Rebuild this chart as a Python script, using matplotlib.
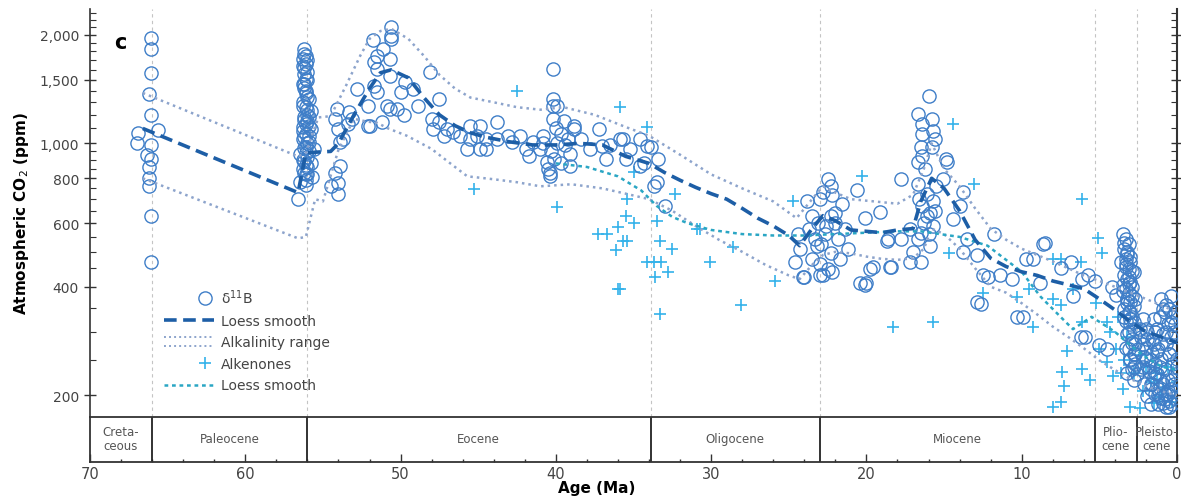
import numpy as np
import matplotlib
matplotlib.use("Agg")
import matplotlib.pyplot as plt
from matplotlib.lines import Line2D
from matplotlib.legend_handler import HandlerLine2D
from matplotlib.ticker import FixedLocator, FuncFormatter, MultipleLocator

# ---- boron isotope (d11B) CO2 estimates, age in Ma, CO2 in ppm ----
b_age_kpg = [66.1, 66.1, 66.1, 66.2, 66.1, 66.9, 65.6, 67.0, 66.1, 66.3, 66.1, 66.2, 66.2, 66.2, 66.1, 66.1]
b_co2_kpg = [1960, 1830, 1570, 1370, 1195, 1070, 1090, 1000, 990, 930, 905, 860, 800, 760, 630, 470]

b_age_petm = [56.2, 56.2, 56.3, 56.1, 56.2, 56.1, 56.3, 56.1, 56.0, 56.3, 56.1, 55.8, 56.2, 56.0, 56.3, 55.8,
              56.1, 56.3, 55.9, 56.1, 55.6, 56.5, 56.0, 56.2, 55.8, 56.3, 56.1, 55.7, 56.5, 56.1, 56.6,
              56.0, 56.2, 56.0, 56.2, 56.0, 55.9, 56.2, 55.9, 56.1, 56.0,
              56.1, 56.3, 56.0, 56.2, 56.1, 55.9, 56.3, 56.0, 56.2, 56.1, 56.3, 55.9, 56.0, 56.2, 56.1,
              56.3, 56.0, 56.2, 56.1, 55.9]
b_co2_petm = [1830, 1770, 1716, 1660, 1560, 1510, 1465, 1395, 1345, 1300, 1260, 1230, 1180, 1150, 1110, 1096,
              1060, 1028, 1010, 980, 964, 935, 915, 895, 880, 849, 823, 805, 780, 766, 700,
              1700, 1620, 1500, 1420, 1200, 1120, 1040, 950, 870, 820,
              1750, 1640, 1580, 1460, 1380, 1330, 1270, 1240, 1160, 1130, 1080, 1050, 1000, 970, 940,
              900, 860, 830, 790, 1180]

b_age_eo = [54.5, 54.0, 54.0, 54.2, 53.9, 53.9, 54.0, 54.2, 54.1, 53.3, 52.8, 53.4, 53.1, 53.7, 52.1, 52.1,
            51.8, 51.5, 51.7, 51.5, 51.7, 51.5, 51.1, 50.7, 50.6, 50.6, 50.6, 50.7, 50.7, 50.2, 49.8, 50.0,
            49.7, 49.2, 48.9, 50.9, 51.2, 52.0, 48.1, 47.5, 48.0, 47.9, 47.5, 47.0, 47.2, 46.6, 46.2, 45.5,
            45.5, 45.1, 45.7, 44.9, 44.5, 44.5, 44.9, 43.8, 43.8, 43.1, 42.8, 42.3, 41.9, 41.7, 41.5, 41.0,
            40.8, 40.6, 40.4, 40.2, 40.2, 40.2]
b_co2_eo = [760, 725, 775, 830, 865, 1010, 1095, 1170, 1245, 1220, 1415, 1130, 1170, 1030, 1270, 1115,
            1940, 1750, 1680, 1610, 1440, 1390, 1830, 1716, 2110, 1950, 1990, 1540, 1245, 1245, 1200, 1390,
            1480, 1415, 1270, 1270, 1145, 1115, 1580, 1330, 1170, 1095, 1145, 1095, 1050, 1075, 1050, 1030,
            1115, 1050, 965, 965, 965, 1030, 1115, 1145, 1030, 1050, 1010, 1050, 965, 920, 1010, 965,
            1050, 890, 810, 1610, 1270, 1170]

b_age_lateeo = [39.7, 39.4, 39.1, 40.1, 38.8, 39.7, 40.5, 38.4, 37.8, 37.2, 36.5, 35.9, 35.2, 34.6, 35.5, 34.3,
                33.9, 40.2, 39.9, 38.8, 37.0, 36.8, 35.7, 34.1, 33.4, 33.7, 33.5, 33.0, 34.6, 39.1, 40.4,
                40.8, 40.0, 39.5, 40.3, 39.9, 39.2]
b_co2_lateeo = [1060, 990, 935, 905, 1096, 880, 849, 1028, 964, 1096, 990, 1028, 964, 1028, 905, 880,
                975, 1330, 1270, 1115, 985, 905, 1028, 985, 905, 760, 780, 670, 865, 865, 830,
                1000, 1100, 1150, 950, 1000, 1030]

b_age_olmi = [23.8, 24.3, 24.0, 22.8, 22.5, 22.3, 22.8, 23.0, 23.5, 23.1, 22.7, 22.3, 22.0, 23.3, 22.9, 22.3,
              21.8, 23.5, 23.0, 22.5, 21.7, 22.0, 22.2, 21.6, 21.4, 21.2, 22.2, 24.1, 23.0,
              24.6, 24.4, 23.7, 22.6, 23.2]
b_co2_olmi = [690, 510, 425, 430, 796, 760, 735, 700, 630, 600, 560, 630, 600, 542, 525, 495,
              542, 477, 462, 448, 477, 640, 720, 680, 578, 510, 440, 425, 430,
              470, 560, 580, 590, 520]

b_age_mio = [20.6, 20.1, 19.1, 18.6, 19.6, 18.4, 20.1, 17.8, 16.7, 16.0, 16.4, 15.8, 16.4, 15.7, 16.5, 15.8,
             16.4, 15.6, 16.7, 14.9, 16.7, 16.1, 16.4, 16.1, 16.5, 17.0, 16.5, 16.7, 17.2, 15.9, 15.7, 15.7,
             15.5, 15.1, 14.8, 13.8, 14.0, 14.4, 13.5, 13.8, 12.9, 11.8, 12.2, 12.6, 11.4, 10.6, 9.9, 9.3,
             8.5, 17.8, 18.7, 20.0, 20.4, 19.8, 18.5, 17.2, 12.9, 10.3, 12.5, 9.7,
             16.2, 15.9, 16.0, 16.3, 15.6, 16.6]
b_co2_mio = [740, 620, 645, 542, 455, 455, 405, 796, 1205, 1355, 1130, 1170, 1060, 1080, 975, 975,
             920, 1028, 890, 905, 770, 725, 670, 630, 565, 500, 470, 542, 578, 520, 590, 690,
             760, 796, 890, 735, 670, 616, 542, 500, 490, 560, 425, 358, 430, 420, 330, 477,
             530, 542, 535, 410, 410, 448, 455, 470, 362, 330, 430, 477,
             850, 640, 560, 600, 650, 700]

b_age_plio = [6.2, 6.1, 5.0, 8.6, 5.7, 5.3, 6.7, 5.9, 4.5, 8.8, 7.5, 6.8, 4.2, 3.9,
              3.5, 3.3, 3.1, 3.4, 3.2, 3.0, 3.6, 3.3, 3.1, 2.9, 3.4, 3.2, 3.0, 3.5, 3.3, 3.1,
              2.9, 3.2, 3.0, 2.8, 3.4, 3.1, 2.9, 3.3, 3.0, 2.8, 3.2, 2.9, 2.7, 3.1, 2.8, 3.0,
              2.7, 2.9, 2.6, 2.8, 3.2, 3.0, 3.3, 3.1,
              3.4, 3.2, 3.0, 2.8, 3.3, 3.1, 2.9, 2.7, 3.5, 3.2, 3.0, 2.8, 3.4, 3.1, 2.9, 2.7,
              3.3, 3.0, 2.8, 3.2]
b_co2_plio = [290, 420, 275, 525, 430, 416, 376, 290, 268, 410, 450, 470, 400, 380,
              560, 542, 525, 509, 493, 483, 470, 462, 448, 442, 431, 420, 412, 404, 394, 384,
              377, 370, 362, 354, 347, 341, 330, 321, 315, 305, 296, 286, 278, 268, 260, 252,
              244, 236, 229, 221, 370, 325, 477, 407,
              530, 500, 470, 440, 455, 425, 400, 370, 390, 360, 340, 320, 330, 300, 280, 260,
              270, 250, 240, 230]

b_age_pleist = [2.4, 2.2, 2.0, 1.8, 1.6, 1.4, 1.2, 2.3, 2.1, 1.9, 1.7, 1.5, 1.3, 1.1, 0.9, 0.7, 0.5, 0.3, 0.1,
                1.2, 1.0, 0.8, 0.6, 0.4, 0.2, 0.9, 0.7, 0.5, 0.3, 0.1, 1.4, 1.1, 0.8, 0.5, 0.2, 1.6, 1.9,
                2.2, 0.6, 0.4, 0.2, 0.0, 1.0, 0.7, 0.3, 1.3, 1.7, 2.5, 2.0, 1.5, 1.0, 0.4, 1.2, 0.9, 0.6,
                2.3, 2.0, 1.7, 1.4, 1.1, 0.8, 0.5, 0.2, 2.1, 1.8, 1.5, 1.2, 0.9, 0.6, 0.3, 0.0,
                1.9, 1.6, 1.3, 1.0, 0.7, 0.4, 0.1, 2.2, 1.4, 0.8, 0.2, 1.1, 0.5, 1.7]
b_co2_pleist = [305, 278, 252, 233, 215, 201, 189, 236, 215, 199, 189, 278, 305, 330, 347, 356, 347, 330, 315,
                268, 252, 236, 221, 208, 196, 296, 278, 260, 244, 229, 244, 221, 201, 193, 215, 260, 286,
                325, 315, 290, 268, 252, 196, 185, 189, 229, 208, 268, 305, 325, 370, 378, 208, 215, 201,
                290, 270, 250, 230, 210, 195, 185, 205, 255, 240, 225, 200, 190, 205, 220, 240,
                300, 285, 265, 280, 300, 320, 340, 240, 300, 340, 300, 240, 260, 215]

# ---- boron loess smooth and alkalinity range ----
loess_age = [66.6, 56.6, 56.1, 55.5, 54.5, 54.0, 53.0, 52.0, 51.3, 50.6, 49.5, 48.5, 47.5, 46.5, 45.5, 44.5,
             43.0, 41.5, 40.0, 38.5, 37.0, 35.5, 34.0, 33.0, 32.0, 31.0, 30.0, 29.0, 28.0, 27.0, 26.0, 25.0,
             24.3, 23.5, 22.8, 22.0, 21.0, 20.0, 19.0, 18.0, 17.0, 16.5, 15.8, 15.0, 14.0, 13.0, 12.0, 11.0,
             10.0, 9.0, 8.0, 7.0, 6.0, 5.0, 4.0, 3.0, 2.0, 1.0, 0.0]
loess_co2 = [1100, 730, 940, 945, 950, 1000, 1200, 1420, 1570, 1600, 1520, 1340, 1200, 1120, 1070, 1040,
             1010, 990, 990, 1000, 990, 920, 880, 830, 790, 755, 725, 700, 660, 620, 590, 555,
             520, 580, 630, 610, 575, 570, 565, 575, 580, 690, 800, 750, 650, 540, 480, 455,
             440, 430, 415, 405, 395, 370, 345, 320, 300, 290, 280]

upper_age = [66.6, 56.6, 56.1, 55.3, 54.5, 53.5, 52.6, 52.0, 51.3, 50.6, 49.5, 48.5, 47.5, 46.5, 45.5, 44.0,
             42.5, 41.0, 39.5, 37.5, 35.5, 34.0, 32.0, 30.0, 28.0, 26.0, 24.5, 23.5, 22.8, 22.0, 21.0, 19.5,
             18.0, 17.0, 16.3, 15.8, 15.0, 14.0, 13.0, 12.0, 11.0, 10.0, 9.0, 8.0, 7.0, 6.0, 5.0, 4.0,
             3.0, 2.0, 1.0, 0.0]
upper_co2 = [1380, 920, 940, 1180, 1190, 1450, 1750, 1950, 2050, 2080, 1950, 1750, 1550, 1420, 1340, 1300,
             1260, 1240, 1260, 1200, 1110, 1050, 930, 820, 750, 690, 620, 700, 760, 730, 700, 690,
             680, 720, 850, 1000, 850, 760, 660, 580, 540, 510, 490, 470, 450, 430, 415, 400,
             385, 370, 355, 340]

lower_age = [66.6, 56.6, 56.1, 55.5, 55.0, 54.0, 53.0, 52.2, 51.5, 50.8, 49.6, 48.0, 46.8, 45.7, 44.0, 42.5,
             41.0, 39.0, 37.0, 35.5, 34.0, 32.5, 31.0, 29.5, 28.0, 26.5, 25.0, 24.3, 23.5, 22.8, 22.0, 21.0,
             20.0, 19.0, 18.0, 17.0, 16.3, 15.8, 15.0, 14.0, 13.0, 12.0, 11.0, 10.0, 9.0, 8.0, 7.0, 6.0,
             5.0, 4.0, 3.0, 2.0, 1.0, 0.0]
lower_co2 = [800, 545, 550, 700, 690, 960, 1170, 1150, 1140, 1100, 1050, 965, 880, 810, 795, 780,
             760, 770, 750, 725, 700, 650, 590, 540, 500, 460, 430, 420, 460, 490, 500, 495,
             485, 478, 475, 480, 510, 580, 560, 510, 450, 400, 385, 360, 335, 310, 290, 270,
             250, 235, 222, 212, 205, 200]

# ---- alkenone CO2 estimates ----
alk_age = [42.5, 45.3, 39.9, 35.9, 34.1, 35.4, 35.5, 35.0, 37.3, 36.7, 36.0, 35.7, 35.4, 36.1, 35.9, 35.0,
           34.1, 33.7, 33.2, 33.6, 32.8, 33.3, 33.5, 33.3, 32.5, 32.3, 30.7, 30.1, 28.1, 28.6, 25.9, 24.7,
           30.9, 36.0,
           20.3, 14.4, 13.1, 14.7, 18.3, 15.7, 12.5, 10.3, 9.5, 9.3, 8.0, 7.5, 7.1, 7.4, 7.3, 7.5, 8.0, 7.5,
           6.1, 5.1, 4.8, 8.0, 6.2, 6.1, 6.1, 5.6, 5.0, 4.5, 4.1, 3.5, 3.0, 2.4, 3.9, 3.2, 2.4, 1.7, 1.1,
           0.3, 0.6, 0.0, 4.5, 5.2, 6.7, 3.8, 3.4, 2.8, 2.2, 1.5, 0.9, 4.3, 3.6, 2.0, 1.3]
alk_co2 = [1400, 745, 665, 1260, 1110, 700, 630, 600, 560, 560, 585, 535, 535, 505, 394, 835,
           470, 470, 470, 425, 440, 335, 610, 535, 510, 725, 578, 470, 355, 515, 415, 690,
           578, 394,
           810, 1130, 770, 495, 310, 320, 385, 375, 394, 310, 370, 355, 265, 232, 212, 192, 186, 477,
           700, 545, 496, 477, 470, 320, 236, 221, 268, 248, 226, 208, 186, 184, 268, 290, 258, 217, 198,
           192, 240, 217, 320, 360, 394, 330, 250, 230, 205, 190, 210, 300, 230, 240, 230]

alk_loess_age = [40.0, 38.0, 36.0, 34.5, 33.5, 32.5, 31.5, 30.0, 28.0, 26.0, 24.0, 22.0, 20.0, 18.0, 16.5,
                 14.0, 12.2, 10.0, 8.8, 7.5, 6.7, 5.5, 4.0, 3.0, 2.0, 1.0, 0.0]
alk_loess_co2 = [880, 860, 810, 740, 670, 625, 600, 575, 560, 555, 555, 560, 565, 570, 570,
                 550, 520, 440, 376, 330, 305, 330, 300, 275, 255, 240, 235]

# ---- geologic epochs ----
epoch_bounds = [66.0, 56.0, 33.9, 23.0, 5.3, 2.6]
epoch_names = ["Creta-\nceous", "Paleocene", "Eocene", "Oligocene", "Miocene", "Plio-\ncene", "Pleisto-\ncene"]
epoch_mid = [68.0, 61.0, 45.0, 28.45, 14.15, 3.95, 1.3]

ytick_vals = [200, 400, 600, 800, 1000, 1500, 2000]

c_circle = "#3f7ec8"
c_loess = "#1d5ea6"
c_range = "#8da4cc"
c_alk = "#33b2ea"
c_alk_loess = "#2aa6c4"


class DoubleLineHandler(HandlerLine2D):
    # legend key drawn as two thin parallel dotted lines
    def create_artists(self, legend, orig_handle, xdescent, ydescent, width, height, fontsize, trans):
        arts = []
        for dy in (0.05, 0.95):
            ln = Line2D([-xdescent, width - xdescent], [height * dy - ydescent] * 2)
            self.update_prop(ln, orig_handle, legend)
            ln.set_linewidth(1.4)
            ln.set_transform(trans)
            arts.append(ln)
        return arts


class RightMarkerHandler(HandlerLine2D):
    # marker sits at the right end of the legend key, next to its label
    def get_xdata(self, legend, xdescent, ydescent, width, height, fontsize):
        x = -xdescent + width * 0.82
        return [x - 0.5, x + 0.5], [x]


fig = plt.figure(figsize=(11.81, 5.02), dpi=100)
ax = fig.add_axes([90 / 1181, 84 / 502, 1087 / 1181, 408 / 502])
axe = fig.add_axes([90 / 1181, 39 / 502, 1087 / 1181, 45 / 502])

b_age = b_age_kpg + b_age_petm + b_age_eo + b_age_lateeo + b_age_olmi + b_age_mio + b_age_plio + b_age_pleist
b_co2 = b_co2_kpg + b_co2_petm + b_co2_eo + b_co2_lateeo + b_co2_olmi + b_co2_mio + b_co2_plio + b_co2_pleist

for b in epoch_bounds:
    ax.axvline(b, color="#c4c4c4", lw=0.8, ls=(0, (3, 3)), zorder=0)

h_alk = ax.plot(alk_age, alk_co2, ls="none", marker="+", ms=9, mew=1.2, color=c_alk, zorder=2)[0]
h_b = ax.plot(b_age, b_co2, ls="none", marker="o", ms=9.5, mfc="none", mec=c_circle, mew=1.0, zorder=3)[0]
h_rng = ax.plot(upper_age, upper_co2, color=c_range, lw=1.8, ls=(0, (1, 1.6)), zorder=4)[0]
ax.plot(lower_age, lower_co2, color=c_range, lw=1.8, ls=(0, (1, 1.6)), zorder=4)
h_al = ax.plot(alk_loess_age, alk_loess_co2, color=c_alk_loess, lw=1.8, ls=(0, (1.5, 1.5)), zorder=4)[0]
h_lo = ax.plot(loess_age, loess_co2, color=c_loess, lw=2.6, ls=(0, (3.5, 1.8)), zorder=5)[0]

ax.set_yscale("log")
ax.set_xlim(70, 0)
ax.set_ylim(174, 2360)
ax.yaxis.set_major_locator(FixedLocator(ytick_vals))
ax.yaxis.set_minor_locator(FixedLocator(list(range(250, 1000, 50)) + list(range(1100, 2400, 100))))
ax.yaxis.set_major_formatter(FuncFormatter(lambda v, p: f"{int(v):,}"))
ax.yaxis.set_minor_formatter(FuncFormatter(lambda v, p: ""))
ax.tick_params(axis="y", which="major", direction="inout", length=9, width=1, colors="#333333",
               labelsize=10, labelcolor="#444444", right=True)
ax.tick_params(axis="y", which="minor", direction="in", length=4, width=0.8, colors="#333333", right=True)
ax.tick_params(axis="x", which="both", bottom=False, labelbottom=False)
for s in ["top", "bottom"]:
    ax.spines[s].set_visible(False)
ax.spines["left"].set_color("#333333")
ax.spines["right"].set_color("#333333")
ax.spines["left"].set_linewidth(1.2)
ax.spines["right"].set_linewidth(1.5)
ax.set_ylabel("Atmospheric CO$_2$ (ppm)", fontsize=11, fontweight="bold", labelpad=6)
ax.text(0.022, 0.905, "c", transform=ax.transAxes, fontsize=15, fontweight="bold")

leg = ax.legend([h_b, h_lo, h_rng, h_alk, h_al],
                ["δ$^{11}$B", "Loess smooth", "Alkalinity range", "Alkenones", "Loess smooth"],
                loc="upper left", bbox_to_anchor=(0.062, 0.335), frameon=False, fontsize=10,
                handlelength=3.6, labelspacing=0.55, handletextpad=0.5, borderpad=0,
                handler_map={h_rng: DoubleLineHandler(), h_b: RightMarkerHandler(),
                             h_alk: RightMarkerHandler()})
for t in leg.get_texts():
    t.set_color("#444444")

# epoch band
axe.set_xlim(70, 0)
axe.set_ylim(0, 1)
for b in epoch_bounds:
    axe.axvline(b, color="#222222", lw=1.3)
for name, m in zip(epoch_names, epoch_mid):
    axe.text(m, 0.52, name, ha="center", va="center", fontsize=8.5, color="#555555",
             family=["Liberation Sans Narrow", "DejaVu Sans"], linespacing=1.05)
axe.set_yticks([])
axe.xaxis.set_major_locator(MultipleLocator(10))
axe.xaxis.set_minor_locator(MultipleLocator(2))
axe.xaxis.set_major_formatter(FuncFormatter(lambda v, p: f"{int(round(v))}"))
axe.tick_params(axis="x", which="major", direction="in", length=6, width=1, colors="#333333",
                labelsize=10.5, labelcolor="#444444", pad=3)
axe.tick_params(axis="x", which="minor", direction="in", length=2.5, width=1, colors="#333333")
for s in axe.spines.values():
    s.set_color("#333333")
    s.set_linewidth(1.3)
fig.text(597 / 1181, 13 / 502, "Age (Ma)", ha="center", va="center", fontsize=11, fontweight="bold")

fig.savefig("out.png", dpi=100)
